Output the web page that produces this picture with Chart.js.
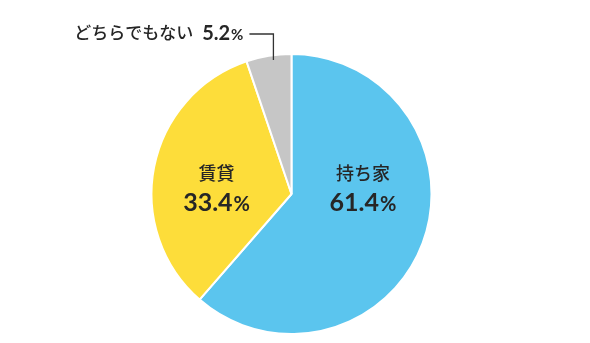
<!DOCTYPE html>
<html lang="ja">
<head>
    <meta charset="UTF-8">
    <title>住まいの形態</title>
    <style>
        html, body { margin: 0; padding: 0; background: #fff; }
        #chartWrap { width: 590px; height: 343px; position: relative; }
    </style>
</head>
<body>

<div id="chartWrap">
    <canvas id="chartContainer"></canvas>
</div>

<script src="https://cdn.jsdelivr.net/npm/chart.js"></script>
<script>
// データ
const labels = ['持ち家', '賃貸', 'どちらでもない'];
const values = [61.4, 33.4, 5.2];
const colors = ['#5BC5EE', '#FDDD3A', '#C6C6C6'];
// ラベル位置 (半径に対する比率) 、最後の項目は引き出し線
const labelOffsets = [[0.51, -0.05], [-0.535, -0.05], null];

const JP_FONT = '"Noto Sans CJK JP", "Noto Sans", sans-serif';
const NUM_FONT = 'Lato, "Noto Sans", sans-serif';
const TEXT_COLOR = '#262626';

function drawValue(ctx, value, x, y, size, pctSize) {
    const num = value.toFixed(1);
    ctx.font = 'bold ' + size + 'px ' + NUM_FONT;
    const w1 = ctx.measureText(num).width;
    ctx.font = 'bold ' + pctSize + 'px ' + NUM_FONT;
    const w2 = ctx.measureText('%').width;
    const left = x - (w1 + w2 + 1) / 2;
    ctx.textAlign = 'left';
    ctx.textBaseline = 'alphabetic';
    ctx.font = 'bold ' + size + 'px ' + NUM_FONT;
    ctx.fillText(num, left, y);
    ctx.font = 'bold ' + pctSize + 'px ' + NUM_FONT;
    ctx.fillText('%', left + w1 + 1, y);
}

const pieLabels = {
    id: 'pieLabels',
    afterDatasetsDraw(chart) {
        const ctx = chart.ctx;
        const arcs = chart.getDatasetMeta(0).data;
        ctx.save();
        ctx.fillStyle = TEXT_COLOR;
        arcs.forEach((arc, i) => {
            const r = arc.outerRadius;
            const off = labelOffsets[i];
            if (off) {
                const cx = arc.x + off[0] * r;
                const cy = arc.y + off[1] * r;
                ctx.font = '500 18px ' + JP_FONT;
                ctx.textAlign = 'center';
                ctx.textBaseline = 'middle';
                ctx.fillText(labels[i], cx, cy - 14);
                drawValue(ctx, values[i], cx, cy + 24, 25, 20);
            } else {
                // 引き出し線付きラベル
                const mid = (arc.startAngle + arc.endAngle) / 2;
                const px = arc.x + Math.cos(mid) * r * 0.97 + 4;
                const py = arc.y + Math.sin(mid) * r * 0.97;
                const ly = 34;
                ctx.strokeStyle = '#333';
                ctx.lineWidth = 1.3;
                ctx.beginPath();
                ctx.moveTo(px, py);
                ctx.lineTo(px, ly);
                ctx.lineTo(px - 24, ly);
                ctx.stroke();

                ctx.font = 'bold 20px ' + NUM_FONT;
                const wNum = ctx.measureText(values[i].toFixed(1)).width;
                ctx.font = 'bold 15px ' + NUM_FONT;
                const wPct = ctx.measureText('%').width;
                const right = px - 30;
                drawValue(ctx, values[i], right - (wNum + wPct + 1) / 2, ly + 6, 20, 15);
                ctx.font = '500 17px ' + JP_FONT;
                ctx.textAlign = 'right';
                ctx.textBaseline = 'middle';
                ctx.fillText(labels[i], right - wNum - wPct - 10, ly - 1);
            }
        });
        ctx.restore();
    }
};

const ctx = document.getElementById('chartContainer');
window.myChart = new Chart(ctx, {
    type: 'pie',
    data: {
        labels: labels,
        datasets: [{
            data: values,
            backgroundColor: colors,
            borderColor: '#ffffff',
            borderWidth: 2
        }]
    },
    options: {
        responsive: true,
        maintainAspectRatio: false,
        animation: false,
        layout: {
            padding: { top: 53, bottom: 8, left: 0, right: 7 }
        },
        plugins: {
            legend: { display: false },
            tooltip: { enabled: false }
        }
    },
    plugins: [pieLabels]
});
</script>

</body>
</html>
